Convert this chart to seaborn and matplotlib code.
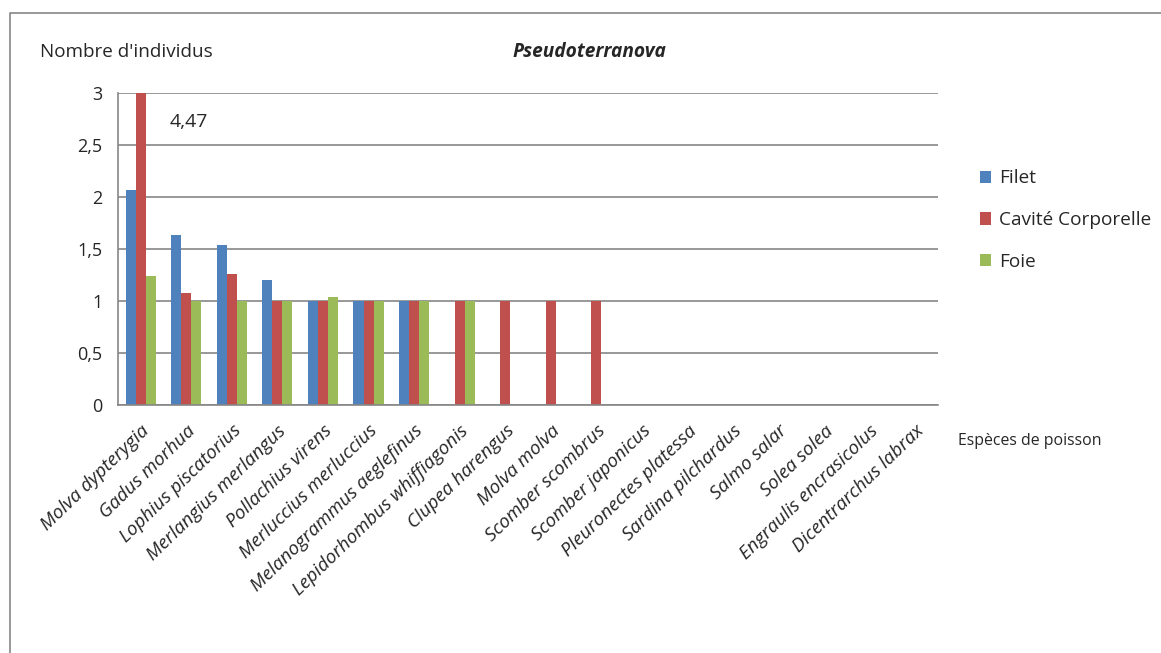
# Pseudoterranova : nombre d'individus par espèce et par organe

import matplotlib
matplotlib.use('Agg')
import matplotlib.pyplot as plt
from matplotlib.ticker import FuncFormatter, MultipleLocator
from matplotlib.lines import Line2D
import pandas as pd
import seaborn as sns

# Données
especes = ['Molva dypterygia', 'Gadus morhua', 'Lophius piscatorius',
           'Merlangius merlangus', 'Pollachius virens', 'Merluccius merluccius',
           'Melanogrammus aeglefinus', 'Lepidorhombus whiffiagonis',
           'Clupea harengus', 'Molva molva', 'Scomber scombrus',
           'Scomber japonicus', 'Pleuronectes platessa', 'Sardina pilchardus',
           'Salmo salar', 'Solea solea', 'Engraulis encrasicolus',
           'Dicentrarchus labrax']
filet = [2.07, 1.63, 1.54, 1.20, 1, 1, 1, 0, 0, 0, 0, 0, 0, 0, 0, 0, 0, 0]
cavite = [4.47, 1.08, 1.26, 1, 1, 1, 1, 1, 1, 1, 1, 0, 0, 0, 0, 0, 0, 0]
foie = [1.24, 1, 1, 1, 1.04, 1, 1, 1, 0, 0, 0, 0, 0, 0, 0, 0, 0, 0]
organes = ['Filet', 'Cavité Corporelle', 'Foie']
couleurs = ['#4f81bd', '#c0504d', '#9bbb59']

df = pd.DataFrame({'espece': especes * 3,
                   'organe': [o for o in organes for _ in especes],
                   'n': filet + cavite + foie})

sns.set_style('white')
plt.rcParams['font.family'] = ['Open Sans', 'DejaVu Sans']

fig = plt.figure(figsize=(11.61, 6.53), dpi=100)
ax = fig.add_axes([0.1016, 0.3798, 0.7063, 0.4778])

sns.barplot(data=df, x='espece', y='n', hue='organe', hue_order=organes,
            palette=couleurs, width=0.66, linewidth=0, saturation=1,
            errorbar=None, ax=ax)

ax.set_ylim(0, 3)
ax.set_xlim(-0.5, len(especes) - 0.5)
ax.yaxis.set_major_locator(MultipleLocator(0.5))
ax.yaxis.set_major_formatter(FuncFormatter(lambda v, p: f'{v:g}'.replace('.', ',')))
ax.grid(axis='y', color='#868686', linewidth=1.2)
ax.set_axisbelow(True)

for s in ['top', 'right']:
    ax.spines[s].set_visible(False)
for s in ['left', 'bottom']:
    ax.spines[s].set_color('#868686')
    ax.spines[s].set_linewidth(1.2)

# graduations entre les catégories (style Excel)
ax.set_xticks([i - 0.5 for i in range(len(especes) + 1)], minor=True)
ax.tick_params(axis='x', which='minor', length=5, color='#868686', width=1.2)
ax.tick_params(axis='x', which='major', length=0, pad=12)
ax.tick_params(axis='y', length=5, color='#868686', width=1.2, labelsize=13, pad=6)
ax.set_xticks(range(len(especes)))
ax.set_xticklabels(especes, rotation=44, ha='right', rotation_mode='anchor',
                   fontstyle='italic', fontsize=13.6)

ax.set_xlabel('')
ax.set_ylabel('')

ax.text(0.64, 2.72, '4,47', fontsize=14, va='center')

leg = ax.legend(loc='upper left', bbox_to_anchor=(1.03, 0.81), frameon=False,
                fontsize=13.7, labelspacing=1.25, handlelength=0.6,
                handleheight=0.6, handletextpad=0.4)

fig.text(40 / 1161, 1 - 52 / 653, "Nombre d'individus", fontsize=13.6, va='center')
fig.text(589 / 1161, 1 - 52 / 653, 'Pseudoterranova', fontsize=13.8,
         fontstyle='italic', fontweight='bold', ha='center', va='center')
fig.text(958 / 1161, 1 - 441 / 653, 'Espèces de poisson', fontsize=11.4, va='center')

# cadre du graphique
fig.add_artist(Line2D([10 / 1161, 10 / 1161, 1.0], [0, 1 - 13 / 653, 1 - 13 / 653],
                      color='#868686', linewidth=1.2, transform=fig.transFigure))

fig.savefig('out.png', dpi=100)
